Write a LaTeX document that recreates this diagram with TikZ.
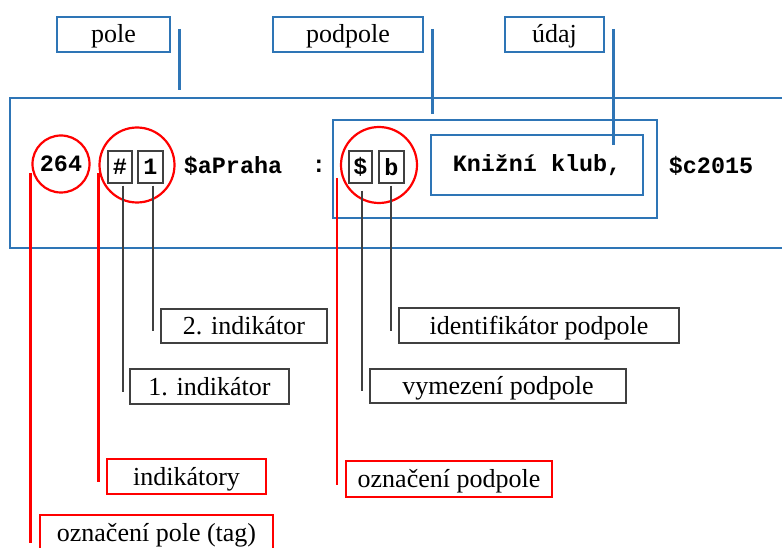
\documentclass[tikz,border=0pt]{standalone}
\usepackage{fontspec}
\setmainfont{Liberation Serif}
\setmonofont{Liberation Mono}
\usepackage{xcolor}
\definecolor{wordblue}{RGB}{46,117,182}
\definecolor{wordred}{RGB}{255,0,0}
\definecolor{boxgray}{RGB}{64,64,64}

\begin{document}
\begin{tikzpicture}[x=1pt,y=-1pt,
    bluebox/.style={draw=wordblue,line width=2.5pt,inner sep=0pt},
    redbox/.style={draw=wordred,line width=2.5pt,inner sep=0pt},
    graybox/.style={draw=boxgray,line width=1.3pt,inner sep=0pt},
    ring/.style={circle,draw=wordred,line width=2.2pt,inner sep=0pt},
    labeltext/.style={font=\fontsize{26}{30}\selectfont,text height=20.5pt,text depth=3.5pt},
    marctext/.style={font=\ttfamily\bfseries\fontsize{23.4}{28}\selectfont},
    blueline/.style={draw=wordblue,line width=2.5pt},
    redline/.style={draw=wordred,line width=2.5pt},
    grayline/.style={draw=boxgray,line width=1.3pt}]
    \useasboundingbox (0,0) rectangle (782,548);
    \clip (0,0) rectangle (782,548);

    % the record line
    \node[bluebox,minimum width=780pt,minimum height=150pt] (record) at (400,173) {};
    \node[bluebox,minimum width=324pt,minimum height=98pt] (subfield) at (495,169) {};
    \node[ring,marctext,minimum size=57pt] (tagc) at (61,164) {264};
    \node[ring,minimum size=75pt] (indc) at (137,165) {};
    \node[ring,minimum size=76pt] (subc) at (379,165) {};
    \node[graybox,marctext,minimum width=24pt,minimum height=32pt] (hash) at (120,167) {\#};
    \node[graybox,marctext,minimum width=25pt,minimum height=32pt] (one) at (150.5,167) {1};
    \node[marctext] (place) at (233,166) {\$aPraha};
    \node[marctext] (colon) at (319,166) {:};
    \node[graybox,marctext,minimum width=23pt,minimum height=32pt] (dollar) at (360.5,167) {\$};
    \node[graybox,marctext,minimum width=25pt,minimum height=32pt] (code) at (391.5,167) {b};
    \node[bluebox,marctext,minimum width=212pt,minimum height=60pt] (data) at (537,165) {Knižní klub,};
    \node[marctext] (date) at (711,166) {\$c2015};

    % labels above
    \node[bluebox,labeltext,minimum width=113pt,minimum height=35pt] (pole) at (113.5,34.5) {pole};
    \node[bluebox,labeltext,minimum width=150pt,minimum height=35pt] (podpole) at (348,34.5) {podpole};
    \node[bluebox,labeltext,minimum width=99pt,minimum height=35pt] (udaj) at (554.5,34.5) {údaj};

    % labels below
    \node[graybox,labeltext,minimum width=166pt,minimum height=34pt] (ind2) at (244,326) {2. indikátor};
    \node[graybox,labeltext,minimum width=159pt,minimum height=35pt] (ind1) at (209.5,386.5) {1. indikátor};
    \node[redbox,labeltext,minimum width=159pt,minimum height=35pt] (indlab) at (186.5,476.5) {indikátory};
    \node[redbox,labeltext,minimum width=233pt,minimum height=35pt] (taglab) at (156.5,532.5) {označení pole (tag)};
    \node[graybox,labeltext,minimum width=280pt,minimum height=35pt] (idpod) at (539,325.5) {identifikátor podpole};
    \node[graybox,labeltext,minimum width=256pt,minimum height=34pt] (vymez) at (498,386) {vymezení podpole};
    \node[redbox,labeltext,minimum width=206pt,minimum height=36pt] (ozpod) at (449,479) {označení podpole};

    \draw[blueline] ([xshift=8pt,yshift=5.5pt]pole.east) -- ([xshift=8pt,yshift=7pt]pole.east |- record.north);
    \draw[blueline] ([xshift=8pt,yshift=5.5pt]podpole.east) -- ([xshift=8pt,yshift=5pt]podpole.east |- subfield.north);
    \draw[blueline] ([xshift=8pt,yshift=5.5pt]udaj.east) -- ([xshift=8pt,yshift=-11pt]udaj.east |- data.north);

    \draw[redline] ([xshift=-1pt,yshift=-9pt]tagc.west) -- ([xshift=-1pt,yshift=-10pt]tagc.west |- taglab.center);
    \draw[redline] ([yshift=-8pt]indc.west) -- ([yshift=-5pt]indc.west |- indlab.center);
    \draw[redline] ([xshift=-3pt,yshift=-13pt]subc.west) -- ([xshift=-3pt,yshift=-6pt]subc.west |- ozpod.center);

    \draw[grayline] ([xshift=3pt,yshift=-2pt]hash.south) -- ([xshift=3pt,yshift=-5pt]hash.south |- ind1.center);
    \draw[grayline] ([xshift=2.5pt,yshift=-2pt]one.south) -- ([xshift=2.5pt,yshift=-5pt]one.south |- ind2.center);
    \draw[grayline] ([xshift=1.5pt,yshift=-7pt]dollar.south) -- ([xshift=1.5pt,yshift=-5pt]dollar.south |- vymez.center);
    \draw[grayline] ([xshift=-0.5pt,yshift=-2pt]code.south) -- ([xshift=-0.5pt,yshift=-5.5pt]code.south |- idpod.center);
\end{tikzpicture}
\end{document}
